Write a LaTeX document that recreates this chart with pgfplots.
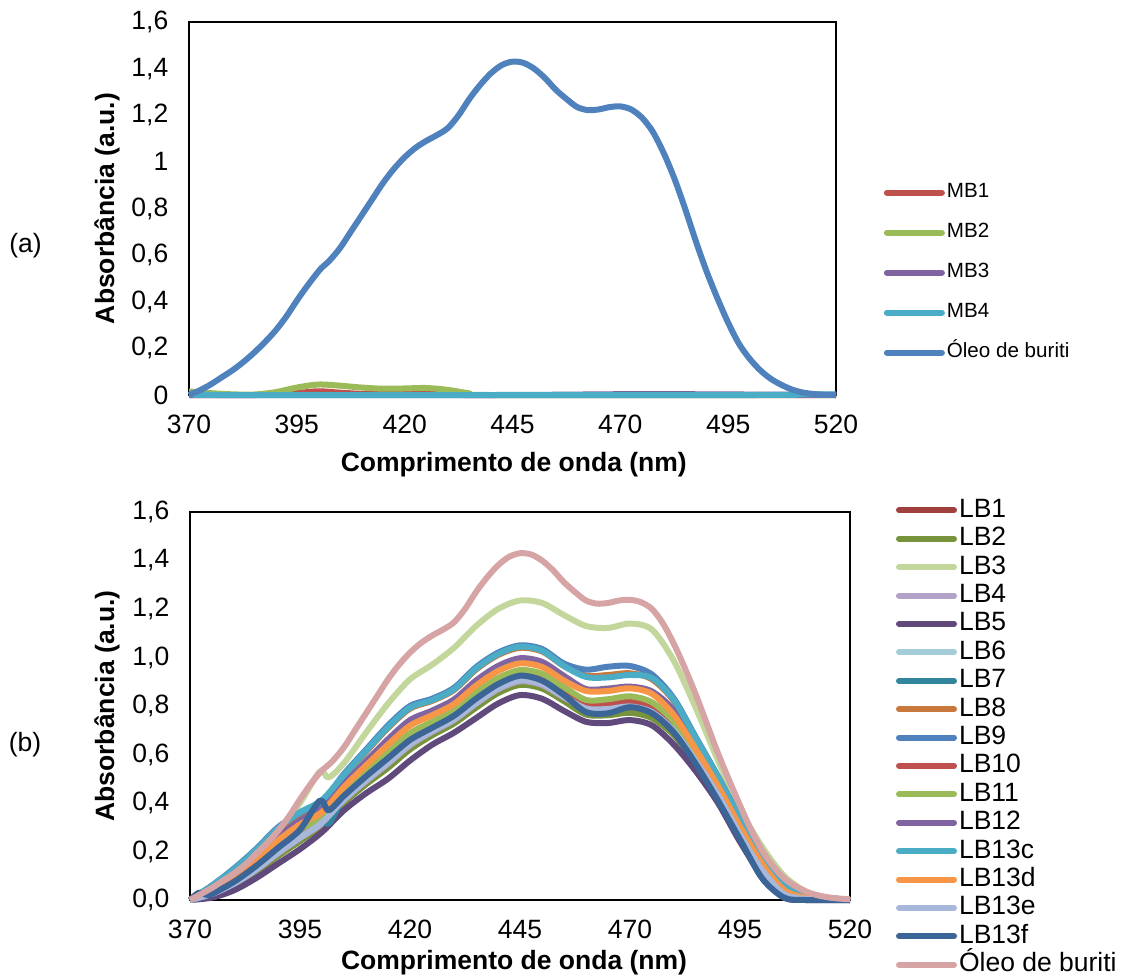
\documentclass[border=0pt]{standalone}
\usepackage{fontspec}
\setmainfont{Liberation Sans}
\usepackage{pgfplots}
\pgfplotsset{compat=1.18}
\usepackage{pgfplotstable}
\newcommand{\fs}{\fontsize{13.25}{15.9}\selectfont}
\newcommand{\fsl}{\fontsize{10.3}{12.4}\selectfont}
\definecolor{cMBa}{HTML}{C0504D}
\definecolor{cMBb}{HTML}{9BBB59}
\definecolor{cMBc}{HTML}{8064A2}
\definecolor{cMBd}{HTML}{4BACC6}
\definecolor{cOleoA}{HTML}{4F81BD}
\definecolor{cLBa}{HTML}{A0403D}
\definecolor{cLBb}{HTML}{77933C}
\definecolor{cLBc}{HTML}{C3D69B}
\definecolor{cLBd}{HTML}{B3A2C7}
\definecolor{cLBe}{HTML}{604A7B}
\definecolor{cLBf}{HTML}{A5CDD9}
\definecolor{cLBg}{HTML}{31859C}
\definecolor{cLBh}{HTML}{C8783A}
\definecolor{cLBi}{HTML}{4F81BD}
\definecolor{cLBj}{HTML}{C0504D}
\definecolor{cLBk}{HTML}{9BBB59}
\definecolor{cLBl}{HTML}{8064A2}
\definecolor{cLBm}{HTML}{4BACC6}
\definecolor{cLBn}{HTML}{F79646}
\definecolor{cLBo}{HTML}{A7B8DA}
\definecolor{cLBp}{HTML}{3B6497}
\definecolor{cOleoB}{HTML}{D6A4A4}

\pgfplotstableread{
nm v
370 0
372.5 0.02
375 0.045
377.5 0.075
380 0.105
382.5 0.14
385 0.18
387.5 0.225
390 0.275
392.5 0.335
395 0.405
397.5 0.47
400 0.53
401 0.55
402.5 0.575
405 0.63
407.5 0.70
410 0.77
412.5 0.84
415 0.91
417.5 0.97
420 1.02
422.5 1.06
425 1.09
427.5 1.115
430 1.145
432.5 1.20
435 1.27
437.5 1.33
440 1.38
442.5 1.415
445 1.43
447.5 1.425
450 1.40
452.5 1.36
455 1.31
457.5 1.27
460 1.235
462.5 1.222
465 1.225
467.5 1.235
470 1.238
472.5 1.225
475 1.19
477.5 1.13
480 1.04
482.5 0.93
485 0.80
487.5 0.66
490 0.53
492.5 0.415
495 0.31
497.5 0.22
500 0.155
502.5 0.105
505 0.068
507.5 0.042
510 0.022
512.5 0.01
515 0.004
517.5 0.001
520 0
}\oleo

\pgfplotstableread{
nm v
370 0
372.5 0.025
375 0.05
377.5 0.08
380 0.11
382.5 0.145
385 0.19
387.5 0.235
390 0.285
392.5 0.345
395 0.415
397.5 0.48
400 0.535
401 0.55
402.5 0.575
405 0.63
407.5 0.70
410 0.77
412.5 0.84
415 0.91
417.5 0.97
420 1.02
422.5 1.06
425 1.09
427.5 1.115
430 1.145
432.5 1.20
435 1.27
437.5 1.33
440 1.38
442.5 1.415
445 1.43
447.5 1.425
450 1.40
452.5 1.36
455 1.31
457.5 1.27
460 1.235
462.5 1.222
465 1.225
467.5 1.235
470 1.238
472.5 1.228
475 1.20
477.5 1.14
480 1.055
482.5 0.955
485 0.845
487.5 0.725
490 0.605
492.5 0.495
495 0.39
497.5 0.29
500 0.205
502.5 0.14
505 0.09
507.5 0.058
510 0.035
512.5 0.02
515 0.011
517.5 0.006
520 0.003
}\oleoB

\pgfplotstableread{
nm v
370 0
385 0
390 0.001
395 0.008
400 0.016
405 0.010
410 0.005
415 0.004
420 0.006
425 0.007
430 0.003
435 0
440 0
520 0
}\mbA

\pgfplotstableread{
nm v
370 0.015
375 0.008
380 0.003
385 0.002
390 0.012
395 0.032
400 0.045
405 0.040
410 0.032
415 0.027
420 0.028
425 0.030
430 0.022
435 0.007
440 0
520 0
}\mbB

\pgfplotstableread{
nm v
370 0
440 0
460 0.002
475 0.004
490 0.003
510 0.001
520 0
}\mbC

\pgfplotstableread{
nm v
370 0.006
375 0.001
380 0
500 0
510 0.002
520 0.003
}\mbD

\pgfplotstableread{
nm LBa LBb LBd LBe LBf LBh LBi LBj LBk LBl LBm LBn LBo
370 0 0 0 0 0 0 0 0 0 0 0 0 0
375 0.030 0.020 0.024 0.010 0.027 0.058 0.060 0.032 0.035 0.047 0.059 0.042 0.025
380 0.076 0.058 0.065 0.040 0.070 0.126 0.130 0.080 0.085 0.107 0.127 0.098 0.067
385 0.138 0.115 0.124 0.090 0.130 0.204 0.210 0.143 0.150 0.179 0.206 0.167 0.126
390 0.210 0.181 0.192 0.150 0.200 0.290 0.300 0.216 0.225 0.261 0.296 0.246 0.195
395 0.274 0.243 0.255 0.210 0.263 0.350 0.360 0.280 0.290 0.328 0.362 0.312 0.258
400 0.332 0.307 0.316 0.280 0.323 0.400 0.405 0.337 0.345 0.376 0.412 0.363 0.319
405 0.430 0.401 0.412 0.370 0.420 0.513 0.520 0.436 0.445 0.481 0.516 0.466 0.415
410 0.512 0.477 0.490 0.440 0.499 0.611 0.620 0.519 0.530 0.573 0.615 0.555 0.494
415 0.588 0.545 0.562 0.500 0.573 0.709 0.720 0.597 0.610 0.663 0.713 0.641 0.566
420 0.665 0.621 0.638 0.575 0.649 0.789 0.800 0.674 0.688 0.742 0.793 0.719 0.643
425 0.716 0.679 0.693 0.640 0.703 0.821 0.830 0.724 0.735 0.781 0.824 0.762 0.697
430 0.764 0.728 0.742 0.690 0.751 0.866 0.875 0.771 0.783 0.827 0.869 0.808 0.746
435 0.834 0.793 0.809 0.750 0.819 0.950 0.960 0.842 0.855 0.905 0.954 0.884 0.813
440 0.894 0.853 0.869 0.810 0.879 1.010 1.020 0.902 0.915 0.965 1.014 0.944 0.873
445 0.927 0.887 0.902 0.845 0.913 1.040 1.050 0.935 0.948 0.997 1.045 0.976 0.907
450 0.912 0.872 0.887 0.830 0.898 1.025 1.035 0.920 0.933 0.982 1.028 0.961 0.892
455 0.858 0.820 0.835 0.780 0.844 0.965 0.975 0.866 0.878 0.924 0.965 0.905 0.839
460 0.815 0.765 0.795 0.735 0.806 0.925 0.950 0.810 0.825 0.870 0.920 0.862 0.790
465 0.815 0.762 0.795 0.730 0.807 0.928 0.962 0.812 0.828 0.872 0.918 0.862 0.788
470 0.825 0.772 0.804 0.742 0.816 0.935 0.965 0.822 0.840 0.880 0.928 0.873 0.798
475 0.800 0.750 0.779 0.720 0.789 0.910 0.930 0.795 0.815 0.860 0.915 0.850 0.775
480 0.716 0.679 0.693 0.640 0.703 0.820 0.830 0.724 0.735 0.781 0.824 0.762 0.697
485 0.586 0.559 0.569 0.530 0.576 0.663 0.670 0.592 0.600 0.634 0.666 0.620 0.572
490 0.444 0.423 0.431 0.400 0.436 0.505 0.510 0.448 0.455 0.481 0.507 0.470 0.433
495 0.280 0.261 0.268 0.240 0.273 0.335 0.340 0.284 0.290 0.314 0.337 0.304 0.270
500 0.132 0.116 0.122 0.100 0.126 0.176 0.180 0.135 0.140 0.159 0.178 0.151 0.124
505 0.030 0.020 0.024 0.010 0.027 0.058 0.060 0.032 0.035 0.047 0.059 0.042 0.025
510 0.006 0.003 0.004 0 0.005 0.014 0.015 0.007 0.008 0.011 0.015 0.010 0.005
515 0.003 0.002 0.002 0 0.003 0.008 0.008 0.004 0.004 0.006 0.008 0.005 0.002
520 0 0 0 0 0 0 0 0 0 0 0 0 0
}\lbmain

\pgfplotstableread{
nm v
370 0
375 0.045
380 0.105
385 0.185
390 0.28
395 0.40
399.5 0.53
401.5 0.505
405 0.565
410 0.69
415 0.81
420 0.91
425 0.97
430 1.04
435 1.13
440 1.20
445 1.235
450 1.225
455 1.175
460 1.13
465 1.122
470 1.14
475 1.115
480 0.985
485 0.79
490 0.575
495 0.375
500 0.22
505 0.10
510 0.035
515 0.01
520 0
}\lbC

\pgfplotstableread{
nm v
370 0
375 0.028
380 0.072
385 0.132
390 0.203
395 0.266
399 0.345
401.5 0.315
405 0.423
410 0.503
415 0.577
420 0.654
425 0.707
430 0.755
435 0.824
440 0.884
445 0.917
450 0.902
455 0.848
460 0.805
465 0.805
470 0.815
475 0.790
480 0.707
485 0.579
490 0.439
495 0.275
500 0.128
505 0.028
510 0.005
515 0.003
520 0
}\lbG

\pgfplotstableread{
nm v
370 0
372 0.03
374 0.02
375 0.025
380 0.075
385 0.14
390 0.215
395 0.29
399.5 0.41
401.5 0.37
405 0.43
410 0.51
415 0.585
420 0.66
425 0.71
430 0.76
435 0.83
440 0.89
445 0.925
450 0.905
455 0.845
460 0.775
465 0.77
470 0.795
475 0.77
480 0.69
485 0.56
490 0.41
495 0.25
500 0.09
505 0.01
510 0
520 0
}\lbP

\pgfplotsset{
  myaxis/.style={
    scale only axis,
    xmin=370, xmax=520, ymin=0, ymax=1.6,
    xtick={370,395,420,445,470,495,520},
    ytick={0,0.2,0.4,0.6,0.8,1,1.2,1.4,1.6},
    major tick length=0pt,
    axis line style={line width=1pt, black},
    clip=false,
    tick label style={font=\fs},
    /pgf/number format/assume math mode=true,
    /pgf/number format/use comma,
    /pgf/number format/1000 sep={},
    xticklabel shift=6.4pt,
    yticklabel shift=6.8pt,
    label style={font=\bfseries\fs},
    ylabel={Absorbância (a.u.)},
    xlabel={Comprimento de onda (nm)},
    legend cell align=left,
    legend image code/.code={\draw[#1, line cap=round] (0pt,0pt) -- (27.5pt,0pt);},
    every axis plot/.append style={line width=3pt, line join=round, smooth, no markers},
  }
}

\begin{document}
\begin{tikzpicture}
\useasboundingbox (0,0) rectangle (561pt,-489.5pt);
\node[font=\fs] at (12.75pt,-123pt) {(a)};
\node[font=\fs] at (12.5pt,-372.5pt) {(b)};

\begin{axis}[myaxis,
  at={(94.5pt,-197.5pt)}, anchor=south west,
  width=323.5pt, height=186.5pt,
  xlabel style={at={(axis description cs:0.502,-0.1877)}, anchor=center},
  ylabel style={at={(axis description cs:-0.1267,0.5)}, anchor=center},
  legend style={at={(1.074,0.3284)}, anchor=west, draw=none, fill=none,
    inner sep=0pt, outer sep=0pt, row sep=8.3pt, font=\fsl,
    nodes={inner sep=1pt, text height=7.5pt, text depth=2.2pt}},
]
\addplot[cMBa] table[x=nm,y=v] {\mbA};
\addlegendentry{MB1}
\addplot[cMBb] table[x=nm,y=v] {\mbB};
\addlegendentry{MB2}
\addplot[cMBc] table[x=nm,y=v] {\mbC};
\addlegendentry{MB3}
\addplot[cMBd] table[x=nm,y=v] {\mbD};
\addlegendentry{MB4}
\addplot[cOleoA] table[x=nm,y=v] {\oleo};
\addlegendentry{Óleo de buriti}
\end{axis}

\begin{axis}[myaxis,
  at={(95pt,-450pt)}, anchor=south west,
  width=330pt, height=194pt,
  yticklabel style={/pgf/number format/fixed, /pgf/number format/fixed zerofill, /pgf/number format/precision=1},
  xlabel style={at={(axis description cs:0.491,-0.162)}, anchor=center},
  ylabel style={at={(axis description cs:-0.1258,0.5)}, anchor=center},
  legend style={at={(1.0697,0.4188)}, anchor=west, draw=none, fill=none,
    inner sep=0pt, outer sep=0pt, row sep=0pt, font=\fs,
    nodes={inner sep=1pt, text height=9.6pt, text depth=2.6pt}},
]
\addplot[cLBa] table[x=nm,y=LBa] {\lbmain};
\addlegendentry{LB1}
\addplot[cLBb] table[x=nm,y=LBb] {\lbmain};
\addlegendentry{LB2}
\addplot[cLBc] table[x=nm,y=v] {\lbC};
\addlegendentry{LB3}
\addplot[cLBd] table[x=nm,y=LBd] {\lbmain};
\addlegendentry{LB4}
\addplot[cLBe] table[x=nm,y=LBe] {\lbmain};
\addlegendentry{LB5}
\addplot[cLBf] table[x=nm,y=LBf] {\lbmain};
\addlegendentry{LB6}
\addplot[cLBg] table[x=nm,y=v] {\lbG};
\addlegendentry{LB7}
\addplot[cLBh] table[x=nm,y=LBh] {\lbmain};
\addlegendentry{LB8}
\addplot[cLBi] table[x=nm,y=LBi] {\lbmain};
\addlegendentry{LB9}
\addplot[cLBj] table[x=nm,y=LBj] {\lbmain};
\addlegendentry{LB10}
\addplot[cLBk] table[x=nm,y=LBk] {\lbmain};
\addlegendentry{LB11}
\addplot[cLBl] table[x=nm,y=LBl] {\lbmain};
\addlegendentry{LB12}
\addplot[cLBm] table[x=nm,y=LBm] {\lbmain};
\addlegendentry{LB13c}
\addplot[cLBn] table[x=nm,y=LBn] {\lbmain};
\addlegendentry{LB13d}
\addplot[cLBo] table[x=nm,y=LBo] {\lbmain};
\addlegendentry{LB13e}
\addplot[cLBp] table[x=nm,y=v] {\lbP};
\addlegendentry{LB13f}
\addplot[cOleoB] table[x=nm,y=v] {\oleoB};
\addlegendentry{Óleo de buriti}
\end{axis}
\end{tikzpicture}
\end{document}
